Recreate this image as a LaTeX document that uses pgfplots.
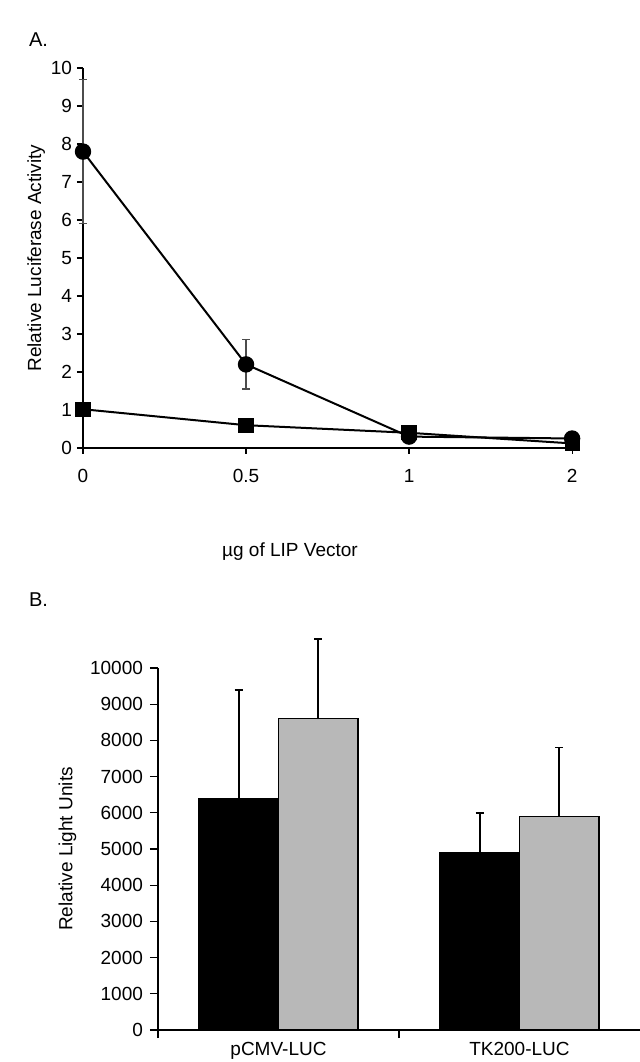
\documentclass[border=0pt]{standalone}
\usepackage{fontspec}
\setmainfont{Liberation Sans}
\usepackage{pgfplots}
\pgfplotsset{compat=1.18}

\begin{document}
\begin{tikzpicture}
% page box: 640 x 1062 px at 0.5pt per px
\path[use as bounding box] (0pt,0pt) rectangle (320pt,531pt);

\node[anchor=west,font=\fontsize{10}{12}\selectfont] at (11pt,511pt) {A.};
\node[anchor=west,font=\fontsize{10}{12}\selectfont] at (11pt,231pt) {B.};

% ---------- panel A ----------
\begin{axis}[
    at={(41.5pt,307pt)}, anchor=south west,
    scale only axis, width=247pt, height=190pt,
    xmin=0, xmax=3.03, ymin=0, ymax=10,
    axis x line=bottom, axis y line=left,
    axis line style={line width=0.8pt,-},
    xtick={0,1,2,3}, xticklabels={0,0.5,1,2},
    ytick={0,1,...,10},
    tick align=outside, major tick length=3pt,
    tick style={line width=0.6pt,black},
    tick label style={font=\fontsize{9.5}{11}\selectfont},
    xticklabel style={yshift=-4pt},
    yticklabel style={xshift=1pt},
    /pgf/number format/assume math mode=true,
    ylabel={Relative Luciferase Activity},
    ylabel style={font=\fontsize{9.5}{11}\selectfont, yshift=-4pt},
    clip=false,
]
% circles, with error bars
\addplot[line width=1pt, black, mark=*, mark size=3.6pt,
    error bars/.cd, y dir=both, y explicit,
    error bar style={line width=0.6pt, black!70},
    error mark options={rotate=90, mark size=2pt, line width=0.6pt}]
coordinates {(0,7.8) +- (0,1.9) (1,2.2) +- (0,0.65) (2,0.3) +- (0,0) (3,0.25) +- (0,0)};
% squares
\addplot[line width=1pt, black, mark=square*, mark size=3.3pt]
coordinates {(0,1.02) (1,0.6) (2,0.4) (3,0.12)};
\end{axis}

\node[font=\fontsize{9.5}{11}\selectfont] at (145pt,255pt) {µg of LIP Vector};

% ---------- panel B ----------
\begin{axis}[
    at={(79pt,16pt)}, anchor=south west,
    scale only axis, width=241pt, height=181pt,
    xmin=0, xmax=2, ymin=0, ymax=10000,
    axis x line=bottom, axis y line=left,
    axis line style={line width=0.8pt,-},
    xtick={0,1}, xticklabels={,},
    extra x ticks={0.5,1.5},
    extra x tick labels={pCMV-LUC,TK200-LUC},
    extra x tick style={tick style={draw=none}, xticklabel style={yshift=1.5pt}},
    ytick={0,1000,...,10000},
    scaled y ticks=false,
    tick align=outside, major tick length=4pt,
    tick style={line width=0.6pt,black},
    tick label style={font=\fontsize{9.5}{11}\selectfont},
    /pgf/number format/1000 sep={},
    /pgf/number format/assume math mode=true,
    ylabel={Relative Light Units},
    ylabel style={font=\fontsize{9.5}{11}\selectfont, yshift=0pt},
    ybar, bar width=0.33,
    clip=false,
]
\addplot[fill=black, draw=black, line width=0.6pt, bar shift=-0.165,
    error bars/.cd, y dir=plus, y explicit,
    error bar style={line width=0.8pt, black},
    error mark options={rotate=90, mark size=2pt, line width=0.8pt}]
coordinates {(0.5,6400) +- (0,3000) (1.5,4900) +- (0,1100)};
\addplot[fill=black!28, draw=black, line width=0.8pt, bar shift=0.165,
    error bars/.cd, y dir=plus, y explicit,
    error bar style={line width=0.8pt, black},
    error mark options={rotate=90, mark size=2pt, line width=0.8pt}]
coordinates {(0.5,8600) +- (0,2200) (1.5,5900) +- (0,1900)};
\end{axis}
\end{tikzpicture}
\end{document}
